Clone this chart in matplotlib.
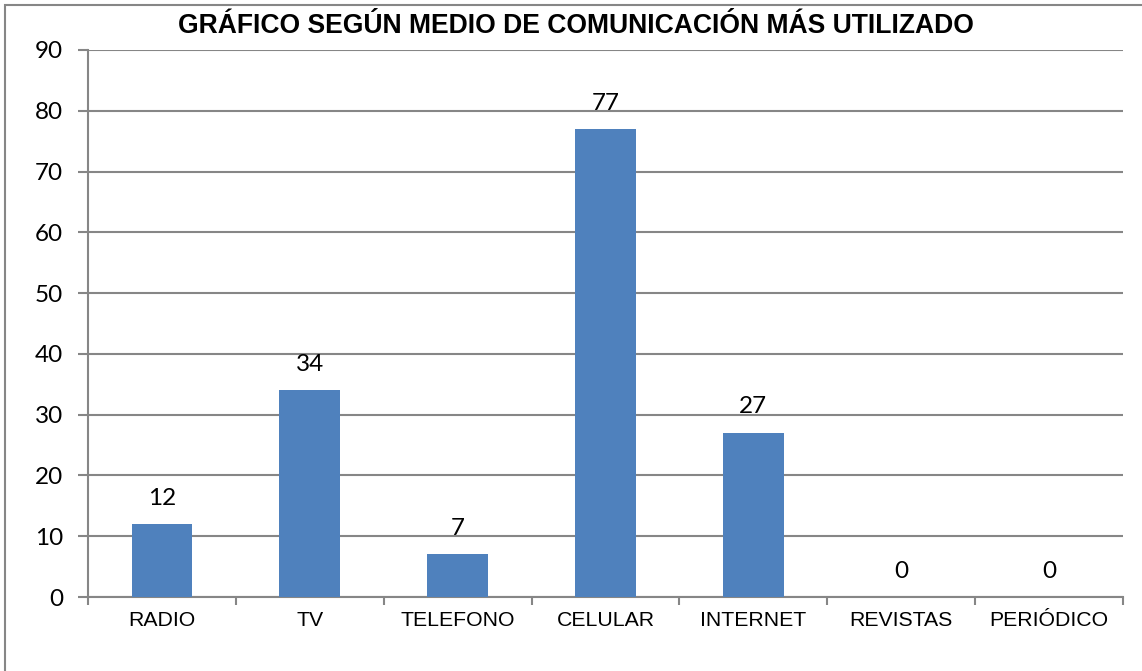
import matplotlib.pyplot as plt
from matplotlib.patches import Rectangle

categorias = ["RADIO", "TV", "TELEFONO", "CELULAR", "INTERNET", "REVISTAS", "PERIÓDICO"]
valores = [12, 34, 7, 77, 27, 0, 0]
titulo = "GRÁFICO SEGÚN MEDIO DE COMUNICACIÓN MÁS UTILIZADO"

plt.rcParams["font.family"] = ["Liberation Sans", "DejaVu Sans"]
numeros = ["Lato", "DejaVu Sans"]

W, H = 1142, 671
fig = plt.figure(figsize=(W / 100, H / 100), dpi=100)
ax = fig.add_axes([88 / W, 1 - 597 / H, (1123 - 88) / W, (597 - 50) / H])

gris = "#868686"
x = range(len(categorias))
barras = ax.bar(x, valores, width=0.41, color="#4f81bd", zorder=3)

for b, v in zip(barras, valores):
    ax.annotate(str(v), (b.get_x() + b.get_width() / 2, v), xytext=(0, 14),
                textcoords="offset points", ha="center", va="baseline",
                fontsize=17.5, family=numeros)

ax.set_xlim(-0.5, len(categorias) - 0.5)
ax.set_ylim(0, 90)
ax.set_yticks(range(0, 91, 10))
ax.set_xticks(x)
ax.set_xticklabels(categorias, fontsize=15.3)
ax.set_xticks([i - 0.5 for i in range(len(categorias) + 1)], minor=True)
ax.tick_params(axis="x", which="major", length=0, pad=10)
ax.tick_params(axis="x", which="minor", length=6, width=1.5, color=gris, direction="out")
ax.tick_params(axis="y", length=7, width=1.5, color=gris, labelsize=17.5, pad=11)
for t in ax.get_yticklabels():
    t.set_family(numeros)
ax.yaxis.grid(True, color=gris, linewidth=1.5, zorder=0)

for s in ["top", "right"]:
    ax.spines[s].set_visible(False)
for s in ["left", "bottom"]:
    ax.spines[s].set_color(gris)
    ax.spines[s].set_linewidth(1.5)

fig.text(576 / W, 1 - 26 / H, titulo, ha="center", va="center",
         fontsize=19.1, fontweight="bold")

# marco del grafico (recortado a la derecha y abajo)
fig.patches.append(Rectangle((5 / W, -0.1), 1.2, 1 - 5 / H + 0.1, transform=fig.transFigure,
                             fill=False, edgecolor=gris, linewidth=1.5))

fig.savefig("out.png", dpi=100)
